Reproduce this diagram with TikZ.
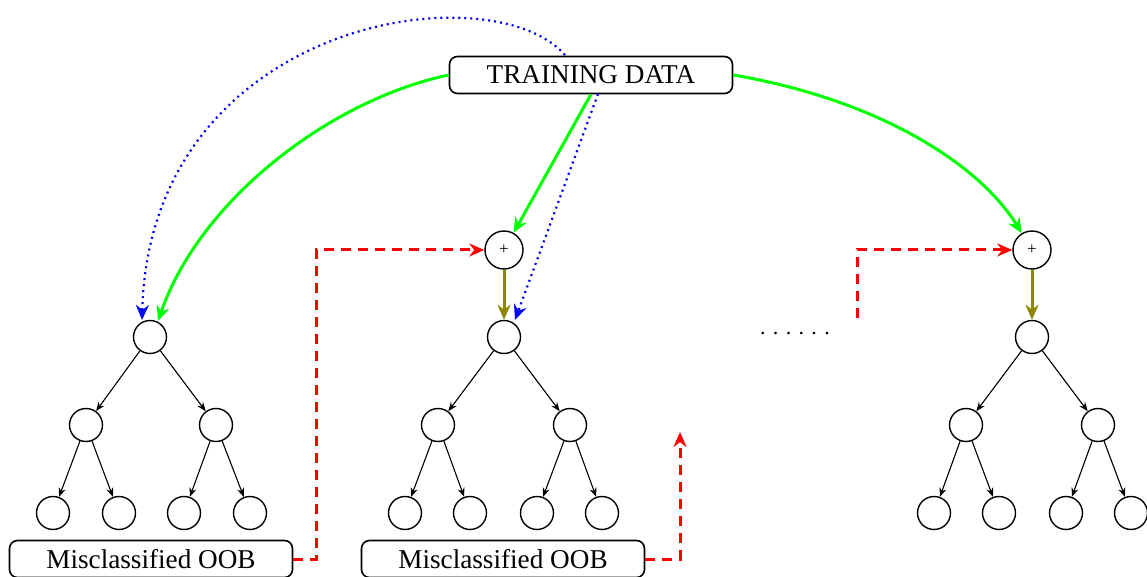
\documentclass[tikz,border=0pt]{standalone}
\usepackage{fontspec}
\setmainfont{Liberation Serif}
\usetikzlibrary{arrows.meta}
\begin{document}
\begin{tikzpicture}[x=0.5pt,y=-0.5pt,
  databox/.style={draw,line width=0.8pt,rounded corners=4pt,minimum width=141.5pt,minimum height=18.5pt,inner sep=0pt,font=\fontsize{13.6}{16}\selectfont},
  tnode/.style={draw,circle,line width=0.7pt,minimum size=16.5pt,inner sep=0pt},
  sumnode/.style={draw,circle,line width=0.7pt,minimum size=19pt,inner sep=0pt,font=\fontsize{8.5}{9}\selectfont},
  tedge/.style={->,line width=0.55pt,>={Stealth[length=4.5pt,width=3.5pt]}},
  feed/.style={-{Stealth[length=7.5pt,width=6.5pt]},green,line width=1.5pt},
  pass/.style={-{Stealth[length=7.5pt,width=6.5pt]},olive,line width=1.5pt},
  oob/.style={-{Stealth[length=7.5pt,width=6.5pt]},red,line width=1.5pt,dash pattern=on 5pt off 3.5pt},
  sample/.style={-{Stealth[length=7.5pt,width=6.5pt]},blue,line width=1.1pt,dash pattern=on 1pt off 2pt}]
\useasboundingbox (0,0) rectangle (1147,577);

% data source
\node[databox] (td) at (591,75) {TRAINING DATA};

% tree 1
\node[tnode] (a0) at (150,337) {};
\node[tnode] (a1) at (86,425) {};
\node[tnode] (a2) at (216,425) {};
\node[tnode] (a3) at (53,513) {};
\node[tnode] (a4) at (119,513) {};
\node[tnode] (a5) at (184,513) {};
\node[tnode] (a6) at (250,513) {};
\node[databox] (m1) at (151,559) {Misclassified OOB};

% tree 2
\node[sumnode] (s2) at (504,250) {+};
\node[tnode] (b0) at (504,337) {};
\node[tnode] (b1) at (438,425) {};
\node[tnode] (b2) at (570,425) {};
\node[tnode] (b3) at (405,513) {};
\node[tnode] (b4) at (470,513) {};
\node[tnode] (b5) at (537,513) {};
\node[tnode] (b6) at (602,513) {};
\node[databox] (m2) at (503,559) {Misclassified OOB};

% tree 3
\node[sumnode] (s3) at (1032,250) {+};
\node[tnode] (c0) at (1032,337) {};
\node[tnode] (c1) at (966,425) {};
\node[tnode] (c2) at (1098,425) {};
\node[tnode] (c3) at (934,513) {};
\node[tnode] (c4) at (999,513) {};
\node[tnode] (c5) at (1066,513) {};
\node[tnode] (c6) at (1131,513) {};

\node[font=\fontsize{11}{13}\selectfont] (dots) at (795,334) {. . . . . .};

% tree edges
\foreach \t in {a,b,c}{
  \draw[tedge] (\t0) -- (\t1);
  \draw[tedge] (\t0) -- (\t2);
  \draw[tedge] (\t1) -- (\t3);
  \draw[tedge] (\t1) -- (\t4);
  \draw[tedge] (\t2) -- (\t5);
  \draw[tedge] (\t2) -- (\t6);
}

% sum into root
\draw[pass] (s2) -- (b0);
\draw[pass] (s3) -- (c0);

% training data to each tree
\coordinate (a0t) at (158,321);
\draw[feed] (td.west) .. controls (330,100) and (200,200) .. (a0t);
\draw[feed] (td.south) -- (s2);
\draw[feed] (td.east) .. controls (880,100) and (980,165) .. (s3);

% sampling paths
\coordinate (tdtop) at (565,55);
\coordinate (a0b) at (142,320);
\draw[sample] (tdtop) .. controls (490,-30) and (150,20) .. (a0b);
\coordinate (tdbot) at (598,94);
\coordinate (b0b) at (515,320);
\draw[sample] (tdbot) -- (b0b);

% out-of-bag feedback
\draw[oob] (m1.east) -- (316,559) -- (316,250) -- (s2.west);
\coordinate (up2) at (680,432);
\draw[oob] (m2.east) -- (680,559) -- (up2);
\coordinate (from3) at (857,318);
\draw[oob] (from3) -- (857,250) -- (s3.west);
\end{tikzpicture}
\end{document}
